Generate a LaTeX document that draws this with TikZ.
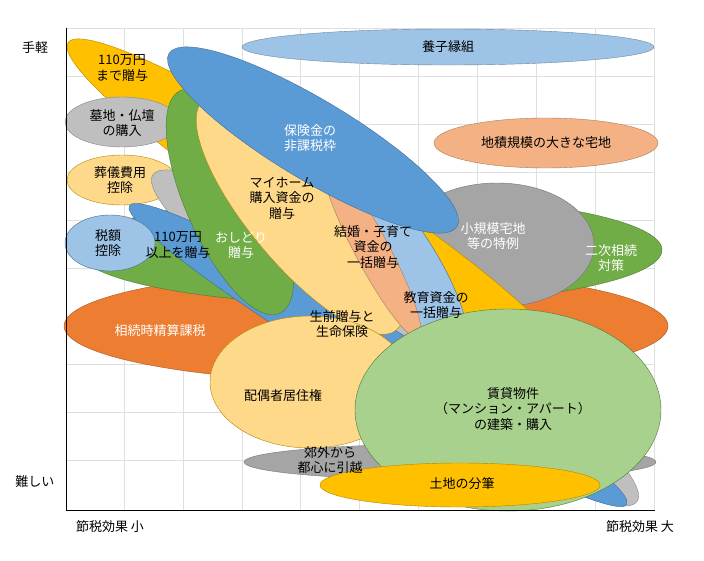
\documentclass[tikz,border=0pt]{standalone}
\usepackage{fontspec}
\setmainfont{Noto Sans CJK JP}
\tikzset{
  blob/.style={draw=#1!70!black, line width=0.4pt},
  lbl/.style={align=center, font=\fontsize{13}{15.5}\selectfont, inner sep=0pt},
  wlbl/.style={lbl, text=white},
}
\definecolor{cOrange}{HTML}{ED7D31}
\definecolor{cGreen}{HTML}{70AD47}
\definecolor{cGray}{HTML}{A5A5A5}
\definecolor{cLGray}{HTML}{BFBFBF}
\definecolor{cLBlue}{HTML}{9DC3E6}
\definecolor{cBlue}{HTML}{5B9BD5}
\definecolor{cGold}{HTML}{FFC000}
\definecolor{cPale}{HTML}{FFD98A}
\definecolor{cSalmon}{HTML}{F4B183}
\definecolor{cLGreen}{HTML}{A9D18E}
\begin{document}
\begin{tikzpicture}[x=1pt,y=-1pt]
\useasboundingbox (0,0) rectangle (704,560);
\fill[white] (0,0) rectangle (704,560);
% grid
\foreach \gx in {124,183,242,300,359,418,477,536,595,654}
  \draw[gray!25] (\gx,28) -- (\gx,510);
\foreach \gy in {28,76,124,172,220,268,316,364,412,460}
  \draw[gray!25] (66,\gy) -- (654,\gy);
% blobs, back to front
\filldraw[fill=cOrange, blob=cOrange] (366,326) ellipse [x radius=302, y radius=56];
\filldraw[fill=cGreen, blob=cGreen] (370,250) ellipse [x radius=292, y radius=55];
\filldraw[fill=cGray, blob=cGray] (497,245) ellipse [x radius=97, y radius=62];
\filldraw[fill=cLBlue, blob=cLBlue] (448,47) ellipse [x radius=206, y radius=18];
\filldraw[fill=cSalmon, blob=cSalmon] (546,143) ellipse [x radius=112, y radius=25];
\filldraw[fill=cGold, blob=cGold, rotate around={-33:(318,205)}] (318,205) ellipse [x radius=298, y radius=42];
\filldraw[fill=cLGray, blob=cLGray] (122,122) ellipse [x radius=57, y radius=25];
\filldraw[fill=cPale, blob=cGold] (122,180) ellipse [x radius=55, y radius=25];
\filldraw[fill=cLGray, blob=cLGray, rotate around={-34:(395,338)}] (395,338) ellipse [x radius=292, y radius=48];
\filldraw[fill=cBlue, blob=cBlue, rotate around={-31:(378,355)}] (378,355) ellipse [x radius=290, y radius=30];
\filldraw[fill=cLBlue, blob=cBlue] (110,243) ellipse [x radius=45, y radius=28];
\filldraw[fill=cGreen, blob=cGreen, rotate around={-66:(230,202)}] (230,202) ellipse [x radius=122, y radius=44];
\filldraw[fill=cPale, blob=cGold, rotate around={-50:(300,215)}] (300,215) ellipse [x radius=150, y radius=50];
\filldraw[fill=cLBlue, blob=cBlue, rotate around={-57:(402,255)}] (402,255) ellipse [x radius=110, y radius=30];
\filldraw[fill=cSalmon, blob=cSalmon, rotate around={-62:(372,250)}] (372,250) ellipse [x radius=100, y radius=17];
\filldraw[fill=cBlue, blob=cBlue, rotate around={-31:(313,140)}] (313,140) ellipse [x radius=168, y radius=40];
\filldraw[fill=cPale, blob=cGold] (310,382) ellipse [x radius=100, y radius=66];
\filldraw[fill=cGray, blob=cGray] (450,462) ellipse [x radius=206, y radius=18];
\filldraw[fill=cLGreen, blob=cGreen] (508,410) ellipse [x radius=153, y radius=101];
\filldraw[fill=cGold, blob=cGold] (460,485) ellipse [x radius=140, y radius=22];
% labels
\node[lbl] (a1) at (122,68) {110万円\\まで贈与};
\node[lbl] (a2) at (122,123) {墓地・仏壇\\の購入};
\node[lbl] (a3) at (120,180) {葬儀費用\\控除};
\node[lbl] (a4) at (108,243) {税額\\控除};
\node[lbl] (a5) at (178,245) {110万円\\以上を贈与};
\node[wlbl] (a6) at (241,245) {おしどり\\贈与};
\node[lbl] (a7) at (282,198) {マイホーム\\購入資金の\\贈与};
\node[wlbl] (a8) at (310,138) {保険金の\\非課税枠};
\node[lbl] (a9) at (373,247) {結婚・子育て\\資金の\\一括贈与};
\node[lbl] (a10) at (436,305) {教育資金の\\一括贈与};
\node[lbl] (a11) at (342,324) {生前贈与と\\生命保険};
\node[wlbl] (a12) at (160,331) {相続時精算課税};
\node[lbl] (a13) at (448,47) {養子縁組};
\node[lbl] (a14) at (546,143) {地積規模の大きな宅地};
\node[wlbl] (a15) at (493,236) {小規模宅地\\等の特例};
\node[wlbl] (a16) at (611,258) {二次相続\\対策};
\node[lbl] (a17) at (283,396) {配偶者居住権};
\node[lbl] (a18) at (513,409) {賃貸物件\\（マンション・アパート）\\の建築・購入};
\node[lbl] (a19) at (330,460) {郊外から\\都心に引越};
\node[lbl] (a20) at (462,484) {土地の分筆};
% axes
\draw[black, line width=0.8pt] (66,28) -- (66,510) -- (655,510);
\node[lbl] (yhi) at (35,48) {手軽};
\node[lbl] (ylo) at (35,482) {難しい};
\node[lbl] (xlo) at (110,527) {節税効果 小};
\node[lbl] (xhi) at (640,527) {節税効果 大};
\end{tikzpicture}
\end{document}
